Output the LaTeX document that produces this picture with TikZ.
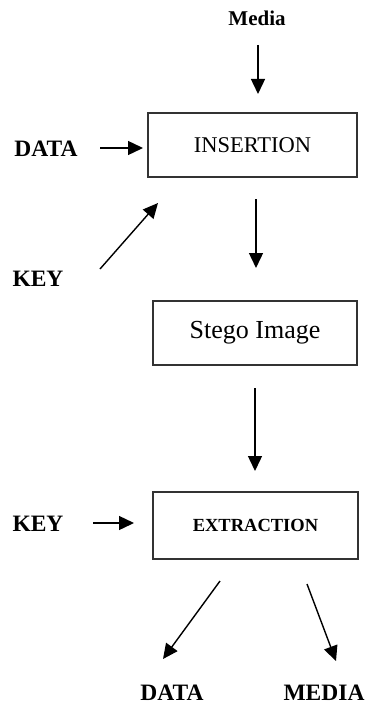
\documentclass[tikz,border=0pt]{standalone}
\usepackage{fontspec}
\setmainfont{Liberation Serif}
\usetikzlibrary{arrows.meta}
\begin{document}
\begin{tikzpicture}[x=1pt,y=-1pt,
  lbl/.style={font=\fontsize{23.5}{26}\selectfont\bfseries, inner sep=0pt, anchor=center},
  stagebox/.style={draw=black!80, line width=1.2pt, inner sep=0pt},
  flow/.style={line width=1.4pt, -{Triangle[length=15pt,width=14pt]}}]
\useasboundingbox (0,0) rectangle (364,706);

% labels
\node[lbl, font=\fontsize{21}{24}\selectfont\bfseries] (media) at (257,18) {Media};
\node[lbl] (datain) at (46,149) {DATA};
\node[lbl] (keyin) at (38,279) {KEY};
\node[lbl] (keyout) at (38,524) {KEY};
\node[lbl] (dataout) at (172,693) {DATA};
\node[lbl] (mediaout) at (324,693) {MEDIA};

% process boxes
\node[stagebox, minimum width=209pt, minimum height=64pt] (ins) at (252.5,145)
  {\fontsize{22.5}{26}\selectfont INSERTION};
\node[stagebox, minimum width=204pt, minimum height=64pt] (stego) at (255,333)
  {\fontsize{26}{29}\selectfont Stego Image};
\node[stagebox, minimum width=205pt, minimum height=67pt] (ext) at (255.5,525.5)
  {\fontsize{18.5}{22}\selectfont\bfseries EXTRACTION};

% arrow end points
\coordinate (m1) at (258,45);   \coordinate (m2) at (258,94);
\coordinate (d1) at (100,148);  \coordinate (d2) at (143,148);
\coordinate (k1) at (100,269);  \coordinate (k2) at (158,203);
\coordinate (s1) at (256,199);  \coordinate (s2) at (256,268);
\coordinate (e1) at (255,388);  \coordinate (e2) at (255,471);
\coordinate (k3) at (93,523);   \coordinate (k4) at (134,523);
\coordinate (o1) at (220,581);  \coordinate (o2) at (163,659);
\coordinate (p1) at (307,584);  \coordinate (p2) at (336,661);

% connectors
\draw[flow] (m1) -- (m2);
\draw[flow] (d1) -- (d2);
\draw[flow] (k1) -- (k2);
\draw[flow] (s1) -- (s2);
\draw[flow] (e1) -- (e2);
\draw[flow] (k3) -- (k4);
\draw[flow] (o1) -- (o2);
\draw[flow] (p1) -- (p2);
\end{tikzpicture}
\end{document}
